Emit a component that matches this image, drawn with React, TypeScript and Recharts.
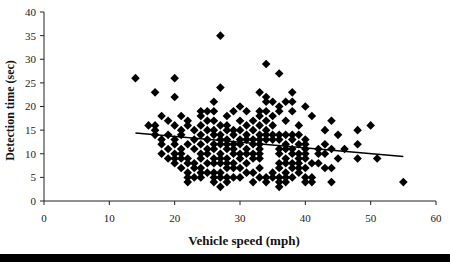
import { ScatterChart, Scatter, XAxis, YAxis, ReferenceLine, Label } from 'recharts';

// speed (mph) -> detection times (sec) observed at that speed
const speeds = [14, 16, 17, 18, 19, 20, 21, 22, 23, 24, 25, 26, 27, 28, 29, 30, 31, 32, 33, 34, 35, 36, 37, 38, 39, 40, 41, 42, 43, 44, 45, 46, 48, 50, 51, 55];
const times = [
  [26],
  [16],
  [23, 16, 15, 14],
  [18, 13, 12, 10],
  [17, 14, 11, 9],
  [26, 22, 16, 13, 12, 10, 9, 8],
  [18, 15, 14, 11, 10, 9, 7],
  [17, 16, 12, 9, 8, 6, 5, 4],
  [15, 13, 11, 8, 7, 5],
  [19, 18, 16, 14, 12, 10, 9, 7, 6, 5],
  [19, 17, 15, 13, 11, 10, 8, 6],
  [21, 19, 17, 15, 14, 12, 11, 9, 8, 6, 5, 4],
  [35, 24, 16, 14, 13, 12, 10, 9, 8, 6, 5, 3],
  [18, 16, 15, 13, 12, 11, 9, 8, 7, 5, 4],
  [19, 15, 14, 12, 11, 10, 8, 7, 5],
  [20, 17, 15, 13, 12, 10, 9, 7, 5],
  [19, 16, 14, 13, 11, 10, 8, 6],
  [17, 15, 13, 12, 10, 9, 6, 4],
  [23, 19, 18, 16, 14, 13, 12, 11, 10, 9, 7, 5],
  [29, 22, 21, 19, 17, 15, 14, 13, 5, 4],
  [21, 18, 16, 14, 13, 6, 5],
  [27, 20, 19, 14, 13, 11, 10, 8, 7, 5, 4, 3],
  [21, 17, 14, 12, 11, 9, 8, 6, 5, 4],
  [23, 21, 19, 14, 13, 11, 10, 8, 7, 5],
  [16, 14, 12, 10, 9, 8, 7, 6],
  [20, 13, 12, 11, 10, 9, 7, 5, 4],
  [18, 8, 5, 4],
  [11, 10, 8],
  [15, 12, 10, 7],
  [17, 11, 7, 4],
  [14, 9],
  [11],
  [15, 12, 9],
  [16],
  [9],
  [4],
];

const trendX = [14, 55];
const trendY = [14.4, 9.4];

const xTicks = [0, 10, 20, 30, 40, 50, 60];
const yTicks = [0, 5, 10, 15, 20, 25, 30, 35, 40];

const points = speeds.flatMap((s, i) => times[i].map((t) => ({ speed: s, time: t })));

const Diamond = (props: any) => {
  const { cx, cy } = props;
  const r = 4.3;
  return <path d={`M${cx},${cy - r}L${cx + r},${cy}L${cx},${cy + r}L${cx - r},${cy}Z`} fill="#000" />;
};

const tickStyle = { fontFamily: 'Liberation Serif', fontSize: 11, fill: '#222' };
const titleStyle = { fontFamily: 'Liberation Serif', fontSize: 13, fontWeight: 'bold', fill: '#111' };

export default function App() {
  return (
    <div style={{ position: 'absolute', left: 0, top: 0, width: 450, height: 262, background: '#fff' }}>
      <ScatterChart width={450} height={254} margin={{ top: 12, right: 14, left: 0, bottom: 0 }}>
        <XAxis
          type="number"
          dataKey="speed"
          domain={[0, 60]}
          ticks={xTicks}
          height={53}
          stroke="#222"
          tickSize={4}
          tickMargin={9}
          tick={tickStyle}
        >
          <Label value="Vehicle speed (mph)" position="center" dx={4} dy={13} style={titleStyle} />
        </XAxis>
        <YAxis
          type="number"
          dataKey="time"
          domain={[0, 40]}
          ticks={yTicks}
          width={44}
          stroke="#222"
          tickSize={4}
          tickMargin={4}
          tick={tickStyle}
        >
          <Label value="Detection time (sec)" position="center" angle={-90} dx={-12} dy={4} style={{ ...titleStyle, fontSize: 12 }} />
        </YAxis>
        <Scatter data={points} shape={Diamond} isAnimationActive={false} />
        <ReferenceLine
          segment={[
            { x: trendX[0], y: trendY[0] },
            { x: trendX[1], y: trendY[1] },
          ]}
          stroke="#000"
          strokeWidth={1.5}
        />
      </ScatterChart>
      <div style={{ position: 'absolute', left: 0, top: 254, width: 450, height: 8, background: '#000' }} />
    </div>
  );
}
